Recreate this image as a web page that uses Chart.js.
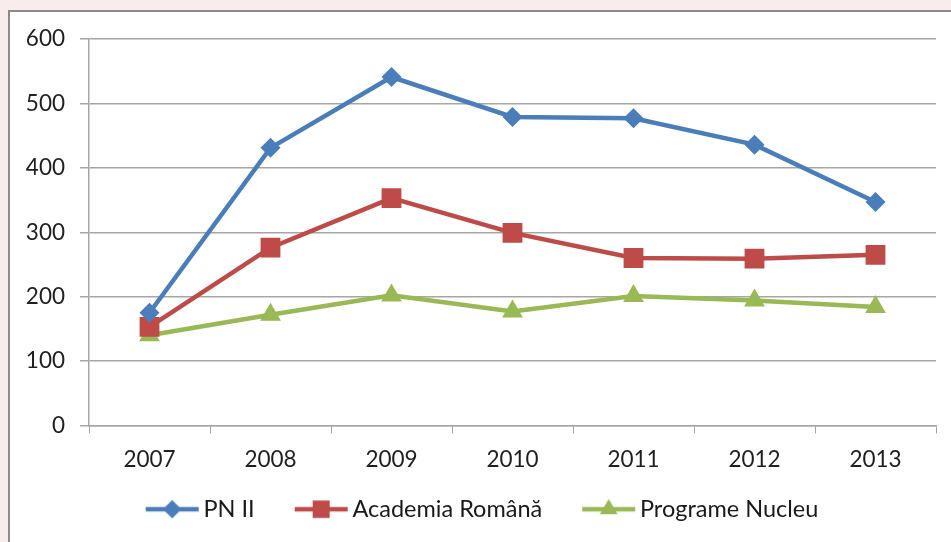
<!DOCTYPE html>
<html>
<head>
<meta charset="utf-8">
<script src="https://cdn.jsdelivr.net/npm/chart.js@4.4.1/dist/chart.umd.min.js"></script>
<style>
  html, body { margin: 0; padding: 0; background: #f8eded; }
  #wrap { width: 951px; height: 542px; position: relative; }
</style>
</head>
<body>
<div id="wrap"><canvas id="chart"></canvas></div>
<script>
const years = ['2007', '2008', '2009', '2010', '2011', '2012', '2013'];
const pnII = [175, 431, 541, 479, 477, 436, 347];
const academia = [153, 276, 353, 299, 260, 259, 265];
const nucleu = [140, 172, 202, 177, 201, 194, 184];
const yTicks = [0, 100, 200, 300, 400, 500, 600];

const BLUE = '#4a7ebb';
const RED = '#be4b48';
const GREEN = '#98b954';
const FONT = "Lato, 'Open Sans', sans-serif";
const LEG_W = 74;   // lățimea casetei din legendă
const ICON_W = 90;  // canvas-ul iconiței (iese puțin spre text)

// icona legendă: linie + marker, ca în Excel
function legendIcon(color, style, radius) {
    const c = document.createElement('canvas');
    c.width = ICON_W; c.height = 26;
    const ctx = c.getContext('2d');
    const x0 = LEG_W / 2 - 46 + ICON_W / 2;
    ctx.strokeStyle = color;
    ctx.lineWidth = 4.5;
    ctx.beginPath();
    ctx.moveTo(x0, 13); ctx.lineTo(x0 + 53, 13);
    ctx.stroke();
    ctx.fillStyle = color;
    Chart.helpers.drawPoint(ctx, { pointStyle: style, radius: radius, borderWidth: 0 }, x0 + 26.5, 13);
    ctx.fill();
    return c;
}

// fundal + cadru
const frame = {
    id: 'frame',
    beforeDraw(chart) {
        const ctx = chart.ctx;
        ctx.save();
        ctx.fillStyle = '#f8eded';
        ctx.fillRect(0, 0, chart.width, chart.height);
        ctx.fillStyle = '#ffffff';
        ctx.fillRect(9, 11, chart.width, chart.height);
        ctx.strokeStyle = '#8a8a8a';
        ctx.lineWidth = 2;
        ctx.beginPath();
        ctx.moveTo(9, chart.height);
        ctx.lineTo(9, 11);
        ctx.lineTo(chart.width, 11);
        ctx.stroke();
        ctx.restore();
    }
};

const series = [
    { label: 'PN II', data: pnII, color: BLUE, style: 'rectRot', r: 10, legR: 9 },
    { label: 'Academia Română', data: academia, color: RED, style: 'rect', r: 14, legR: 12 },
    { label: 'Programe Nucleu', data: nucleu, color: GREEN, style: 'triangle', r: 12, legR: 10 }
];

const icons = series.map(s => legendIcon(s.color, s.style, s.legR));

new Chart(document.getElementById('chart'), {
    type: 'line',
    data: {
        labels: years,
        datasets: series.map(s => ({
            label: s.label,
            data: s.data,
            borderColor: s.color,
            backgroundColor: s.color,
            borderWidth: 4.5,
            pointStyle: s.style,
            pointRadius: s.r,
            pointHoverRadius: s.r,
            pointBorderWidth: 0,
            tension: 0
        }))
    },
    options: {
        responsive: true,
        maintainAspectRatio: false,
        animation: false,
        layout: { padding: { left: 0, right: 15, top: 39, bottom: 11 } },
        plugins: {
            tooltip: { enabled: false },
            legend: {
                position: 'bottom',
                labels: {
                    usePointStyle: true,
                    pointStyleWidth: LEG_W,
                    boxHeight: 26,
                    padding: 12,
                    color: '#1a1a1a',
                    font: { family: FONT, size: 23.5 },
                    generateLabels(chart) {
                        return chart.data.datasets.map((ds, i) => ({
                            text: ds.label,
                            pointStyle: icons[i],
                            fillStyle: ds.borderColor,
                            strokeStyle: ds.borderColor,
                            lineWidth: 0,
                            fontColor: '#1a1a1a',
                            datasetIndex: i
                        }));
                    }
                }
            }
        },
        scales: {
            x: {
                offset: true,
                grid: {
                    offset: true,
                    drawOnChartArea: false,
                    drawTicks: true,
                    tickLength: 8,
                    color: '#a6a6a6'
                },
                border: { color: '#a6a6a6', width: 1.5 },
                ticks: {
                    color: '#1f1f1f',
                    padding: 13,
                    maxRotation: 0,
                    font: { family: FONT, size: 22.5 }
                },
                afterFit(scale) { scale.height = 60; }
            },
            y: {
                min: 0,
                max: 600,
                afterBuildTicks(scale) { scale.ticks = yTicks.map(v => ({ value: v })); },
                grid: {
                    color: '#a6a6a6',
                    lineWidth: 1.5,
                    tickLength: 9
                },
                border: { color: '#a6a6a6', width: 1.5 },
                ticks: {
                    color: '#1f1f1f',
                    padding: 15,
                    font: { family: FONT, size: 22.5 }
                },
                afterFit(scale) { scale.width = 89; }
            }
        }
    },
    plugins: [frame]
});
</script>
</body>
</html>
